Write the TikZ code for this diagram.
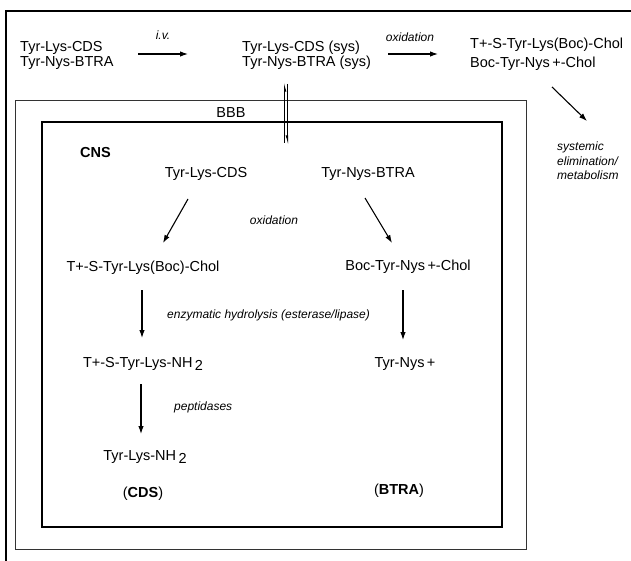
\documentclass[tikz,border=0pt]{standalone}
\usepackage{fontspec}
\setmainfont{Liberation Sans}
\usetikzlibrary{arrows.meta}
\begin{document}
\begin{tikzpicture}[x=1pt,y=-1pt,
  txt/.style={inner sep=0pt,font=\fontsize{14.5}{17}\selectfont},
  lbl/.style={inner sep=0pt,font=\fontsize{12}{14}\selectfont\itshape},
  arr/.style={line width=1.1pt,-{Latex[length=8pt,width=5.5pt]}},
  frame/.style={line width=2.4pt},
  boxo/.style={line width=1pt,draw=black!80},
  boxi/.style={line width=1.4pt}]
\useasboundingbox (0,0) rectangle (631,561);
\fill[white] (0,0) rectangle (631,561);
% page frame
\coordinate (pf1) at (6,570);
\coordinate (pf2) at (6,11);
\coordinate (pf3) at (640,11);
\draw[frame] (pf1) -- (pf2) -- (pf3);
% BBB and CNS boxes
\draw[boxo] (15,101) rectangle (526,549);
\draw[boxi] (42,122) rectangle (502,527);
\node[txt,anchor=base] (bbb) at (231,118) {BBB};
% top row
\node[txt,anchor=base west] (in1) at (20,52) {Tyr-Lys-CDS};
\node[txt,anchor=base west] (in2) at (20,67) {Tyr-Nys-BTRA};
\coordinate (iva) at (138,54); \coordinate (ivb) at (188,54);
\draw[arr] (iva) -- (ivb);
\node[lbl,anchor=base] (iv) at (163,40) {i.v.};
\node[txt,anchor=base west] (sys1) at (242,52) {Tyr-Lys-CDS (sys)};
\node[txt,anchor=base west] (sys2) at (242,67) {Tyr-Nys-BTRA (sys)};
\coordinate (oxa) at (388,54); \coordinate (oxb) at (438,54);
\draw[arr] (oxa) -- (oxb);
\node[lbl,anchor=base] (ox1) at (410,42) {oxidation};
\node[txt,anchor=base west] (r1) at (470,49) {T+-S-Tyr-Lys(Boc)-Chol};
\node[txt,anchor=base west] (r2) at (470,68) {Boc-Tyr-Nys\,+-Chol};
\coordinate (da) at (552,87); \coordinate (db) at (587,121);
\draw[arr] (da) -- (db);
\node[lbl,anchor=base west] (se1) at (557,151) {systemic};
\node[lbl,anchor=base west] (se2) at (557,166) {elimination/};
\node[lbl,anchor=base west] (se3) at (557,180) {metabolism};
% double arrow across BBB
\coordinate (ua) at (284.5,143); \coordinate (ub) at (284.5,82);
\coordinate (va) at (287.5,84); \coordinate (vb) at (287.5,145);
\draw[line width=1pt,-{Latex[length=7pt,width=4pt,right]}] (ua) -- (ub);
\draw[line width=1pt,-{Latex[length=7pt,width=4pt,right]}] (va) -- (vb);
% CNS content
\node[txt,anchor=base west,font=\fontsize{14.5}{17}\selectfont\bfseries] (cns) at (80,158) {CNS};
\node[txt,anchor=base] (cds) at (206,178) {Tyr-Lys-CDS};
\node[txt,anchor=base] (btra) at (368,178) {Tyr-Nys-BTRA};
\coordinate (a1s) at (188,199); \coordinate (a1e) at (163,243);
\draw[arr] (a1s) -- (a1e);
\coordinate (a2s) at (365,198); \coordinate (a2e) at (392,243);
\draw[arr] (a2s) -- (a2e);
\node[lbl,anchor=base] (ox2) at (274,225) {oxidation};
\node[txt,anchor=base] (tsl) at (143,271) {T+-S-Tyr-Lys(Boc)-Chol};
\node[txt,anchor=base] (boc) at (408,270) {Boc-Tyr-Nys\,+-Chol};
\coordinate (a3s) at (142,290); \coordinate (a3e) at (142,338);
\draw[arr] (a3s) -- (a3e);
\coordinate (a4s) at (403,290); \coordinate (a4e) at (403,340);
\draw[arr] (a4s) -- (a4e);
\node[lbl,anchor=base west] (enz) at (167,318) {enzymatic hydrolysis (esterase/lipase)};
\node[txt,anchor=base] (tsnh) at (143,367) {T+-S-Tyr-Lys-NH\,\raisebox{-3pt}{2}};
\node[txt,anchor=base] (tyrnys) at (405,367) {Tyr-Nys\,+};
\coordinate (a5s) at (141,384); \coordinate (a5e) at (141,434);
\draw[arr] (a5s) -- (a5e);
\node[lbl,anchor=base west] (pep) at (174,410) {peptidases};
\node[txt,anchor=base] (tlnh) at (145,460) {Tyr-Lys-NH\,\raisebox{-3pt}{2}};
\node[txt,anchor=base] (cdsb) at (143,497) {({\bfseries CDS})};
\node[txt,anchor=base] (btrab) at (399,494) {({\bfseries BTRA})};
\end{tikzpicture}
\end{document}
